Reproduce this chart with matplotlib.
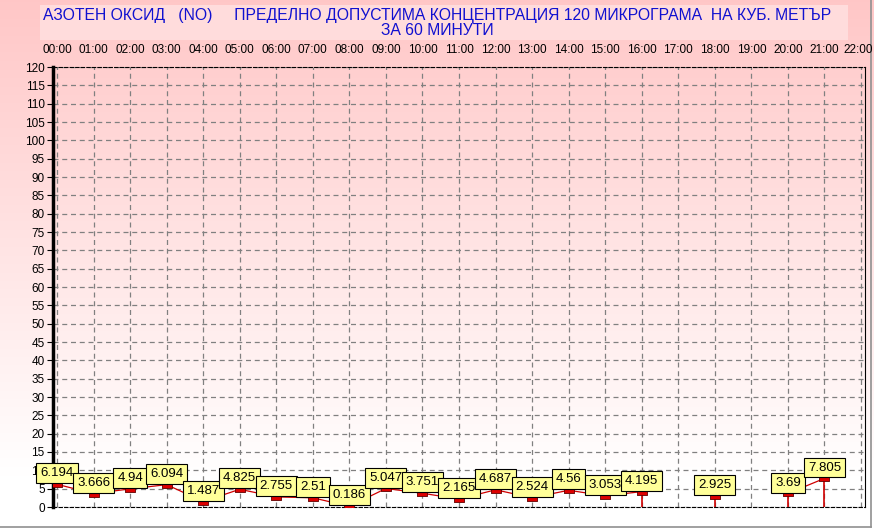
import matplotlib
matplotlib.use("Agg")
import matplotlib.pyplot as plt
import matplotlib.transforms as mtransforms
import numpy as np

hours = [0, 1, 2, 3, 4, 5, 6, 7, 8, 9, 10, 11, 12, 13, 14, 15, 16, 18, 20, 21]
values = [6.194, 3.666, 4.94, 6.094, 1.487, 4.825, 2.755, 2.51, 0.186, 5.047,
          3.751, 2.165, 4.687, 2.524, 4.56, 3.053, 4.195, 2.925, 3.69, 7.805]
labels = ['6.194', '3.666', '4.94', '6.094', '1.487', '4.825', '2.755', '2.51', '0.186', '5.047',
          '3.751', '2.165', '4.687', '2.524', '4.56', '3.053', '4.195', '2.925', '3.69', '7.805']
# hours where a vertical drop line goes down to zero
drop_hours = [16, 18, 20, 21]
hour_labels = ['%02d:00' % h for h in range(23)]

title = ('АЗОТЕН ОКСИД   (NO)     ПРЕДЕЛНО ДОПУСТИМА КОНЦЕНТРАЦИЯ 120 МИКРОГРАМА  НА КУБ. МЕТЪР\n'
         'ЗА 60 МИНУТИ')

plt.rcParams['font.family'] = ['Liberation Sans', 'DejaVu Sans']

fig = plt.figure(figsize=(8.74, 5.29), dpi=100)

# pink -> white background gradient over the whole figure
bg = fig.add_axes([0, 0, 1, 1], zorder=-10)
grad = np.linspace(0, 1, 256).reshape(-1, 1)
top = np.array([1.0, 0.78, 0.78])
bot = np.array([1.0, 1.0, 1.0])
t = np.clip(grad / 0.9, 0, 1)
img = top[None, None, :] * (1 - t[..., None]) + bot[None, None, :] * t[..., None]
bg.imshow(img, aspect='auto', extent=[0, 1, 0, 1], origin='upper')
bg.set_xlim(0, 1)
bg.set_ylim(0, 1)
bg.axis('off')
# lower white area and frame line
bg.add_patch(plt.Rectangle((0, 0), 1, 1 - 509 / 529, color='white', zorder=1))
bg.plot([0, 871 / 874], [1 - 527 / 529] * 2, color='#909090', lw=1.2, zorder=2)
bg.plot([871 / 874] * 2, [1 - 527 / 529, 1], color='#909090', lw=1.2, zorder=2)
# title box
bg.add_patch(plt.Rectangle((40 / 874, 1 - 40 / 529), 808 / 874, 35 / 529,
                           facecolor='#ffdcdc', edgecolor='none', zorder=1))
fig.text(0.5, 1 - 23 / 529, title, ha='center', va='center', color='#1010d0',
         fontsize=11.3, linespacing=1.05)

ax = fig.add_axes([53 / 874, 1 - 507 / 529, 812 / 874, 440 / 529])
ax.patch.set_alpha(0)
ax.set_xlim(-4 / 36.55, 22 + 4 / 36.55)
ax.set_ylim(0, 120)

ax.xaxis.tick_top()
ax.set_xticks(range(23))
ax.set_xticklabels(hour_labels, fontsize=8.5)
ax.tick_params(axis='x', length=0, pad=8)
ax.set_yticks(np.arange(0, 121, 5))
ax.tick_params(axis='y', labelsize=8.5, length=4, width=0.8, pad=2)
ax.grid(True, color='#808080', linestyle=(0, (4, 3)), linewidth=0.9)

# keep the last hour label inside the figure
last = ax.get_xticklabels()[-1]
last.set_horizontalalignment('right')
last.set_transform(last.get_transform() +
                   mtransforms.ScaledTranslation(0.12, 0, fig.dpi_scale_trans))

ax.spines['left'].set_linewidth(2.5)
ax.spines['right'].set_linewidth(0.8)
ax.spines['top'].set_linestyle((0, (3, 2)))
ax.spines['bottom'].set_linestyle((0, (3, 2)))

red = '#d00000'
h = np.array(hours)
v = np.array(values)
# connected segments (0..16) and (20..21)
seg1 = h <= 16
ax.plot(h[seg1], v[seg1], color=red, lw=0.9, zorder=3)
seg2 = h >= 20
ax.plot(h[seg2], v[seg2], color=red, lw=0.9, zorder=3)
for hh, vv in zip(hours, values):
    if hh in drop_hours:
        ax.plot([hh, hh], [0, vv], color=red, lw=1.2, zorder=3)

rect = [(-1.6, -1), (1.6, -1), (1.6, 1), (-1.6, 1), (-1.6, -1)]
ax.plot(h, v, linestyle='none', marker=rect, markersize=6.5, color='#dd0000',
        markeredgecolor='#600000', markeredgewidth=0.6, zorder=4)

for hh, vv, lab in zip(hours, values, labels):
    ax.annotate(lab, xy=(hh, vv), xytext=(0, 3.5), textcoords='offset points',
                ha='center', va='bottom', fontsize=9.5, zorder=5,
                bbox=dict(boxstyle='square,pad=0.3', facecolor='#ffff99',
                          edgecolor='black', linewidth=0.8),
                annotation_clip=False)

fig.savefig('out.png', dpi=100)
